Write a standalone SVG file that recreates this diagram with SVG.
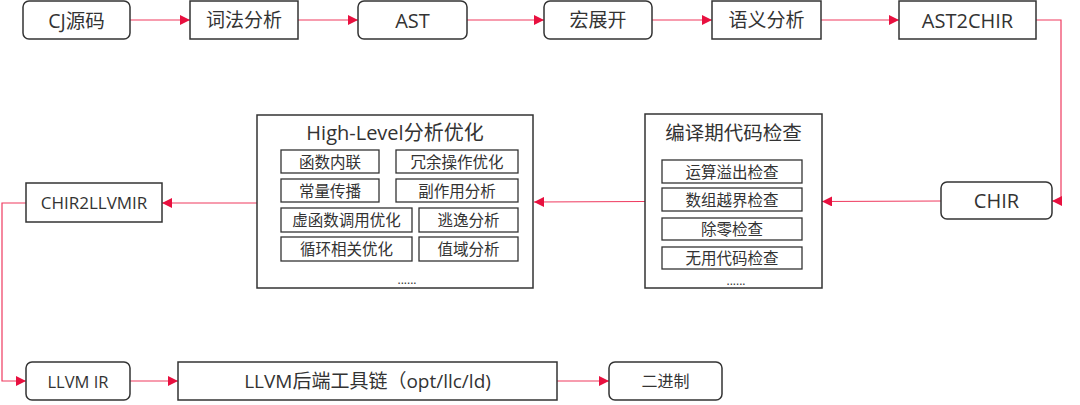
<svg xmlns="http://www.w3.org/2000/svg" width="1080" height="405" viewBox="0 0 1080 405">
<defs>
<marker id="ah" viewBox="0 0 10 10" refX="10" refY="5" markerWidth="10" markerHeight="10" markerUnits="userSpaceOnUse" orient="auto">
<path d="M0,0 L10,5 L0,10 z" fill="#e8103f"/>
</marker>
</defs>
<style>
.n{fill:#fff;stroke:#333;stroke-width:1.5}
.s{fill:#fff;stroke:#333;stroke-width:1.3}
.t{font-family:"Open Sans","Noto Sans CJK SC",sans-serif;fill:#333;text-anchor:middle;dominant-baseline:central}
.c{fill:none;stroke:#ef3a5f;stroke-width:1.2}
</style>
<rect width="1080" height="405" fill="#fff"/>
<g id="connectors">
<path class="c" d="M130,20 L190,20" marker-end="url(#ah)"/>
<path class="c" d="M298,20 L358,20" marker-end="url(#ah)"/>
<path class="c" d="M467,20 L544,20" marker-end="url(#ah)"/>
<path class="c" d="M652,20 L712,20" marker-end="url(#ah)"/>
<path class="c" d="M821,20 L899,20" marker-end="url(#ah)"/>
<path class="c" d="M1036,20 L1061,20 L1061,201 L1052,201" marker-end="url(#ah)"/>
<path class="c" d="M941,201 L822,201.5" marker-end="url(#ah)"/>
<path class="c" d="M645,201.5 L534,202" marker-end="url(#ah)"/>
<path class="c" d="M257,203 L162,203" marker-end="url(#ah)"/>
<path class="c" d="M26,203 L2,203 L2,381 L26,381" marker-end="url(#ah)"/>
<path class="c" d="M130,381 L178,381" marker-end="url(#ah)"/>
<path class="c" d="M557,381 L609,381" marker-end="url(#ah)"/>
</g>
<g id="cj"><rect class="n" x="23" y="1" width="107" height="38" rx="6"/><text class="t" x="76.5" y="20" font-size="19.5">CJ源码</text></g>
<g id="lex"><rect class="n" x="190" y="1" width="108" height="38"/><text class="t" x="244" y="20" font-size="19">词法分析</text></g>
<g id="ast"><rect class="n" x="358" y="1" width="109" height="38" rx="6"/><text class="t" x="412.5" y="20" font-size="20">AST</text></g>
<g id="macro"><rect class="n" x="544" y="1" width="108" height="38" rx="6"/><text class="t" x="598" y="20" font-size="19">宏展开</text></g>
<g id="sema"><rect class="n" x="712" y="1" width="109" height="38"/><text class="t" x="766.5" y="20" font-size="19">语义分析</text></g>
<g id="ast2chir"><rect class="n" x="899" y="1" width="137" height="38"/><text class="t" x="967.5" y="20" font-size="20">AST2CHIR</text></g>
<g id="chir"><rect class="n" x="941" y="182" width="111" height="37" rx="6"/><text class="t" x="996.5" y="200.5" font-size="20">CHIR</text></g>
<g id="check">
<rect class="n" x="645" y="114" width="177" height="174"/>
<text class="t" x="733.5" y="132" font-size="19.5">编译期代码检查</text>
<rect class="s" x="662" y="160" width="140" height="23"/><text class="t" x="732" y="171.5" font-size="15.5">运算溢出检查</text>
<rect class="s" x="662" y="188" width="140" height="23"/><text class="t" x="732" y="199.5" font-size="15.5">数组越界检查</text>
<rect class="s" x="662" y="218" width="140" height="22"/><text class="t" x="732" y="229" font-size="15.5">除零检查</text>
<rect class="s" x="662" y="247" width="140" height="22"/><text class="t" x="732" y="258" font-size="15.5">无用代码检查</text>
<text class="t" x="736" y="280" font-size="12">......</text>
</g>
<g id="highlevel">
<rect class="n" x="257" y="115" width="276" height="173"/>
<text class="t" x="395" y="132" font-size="20">High-Level分析优化</text>
<rect class="s" x="281" y="150" width="98" height="23"/><text class="t" x="330" y="161.5" font-size="15.5">函数内联</text>
<rect class="s" x="396" y="150" width="122" height="23"/><text class="t" x="457" y="161.5" font-size="15.5">冗余操作优化</text>
<rect class="s" x="281" y="179" width="98" height="23"/><text class="t" x="330" y="190.5" font-size="15.5">常量传播</text>
<rect class="s" x="396" y="179" width="122" height="23"/><text class="t" x="457" y="190.5" font-size="15.5">副作用分析</text>
<rect class="s" x="281" y="208" width="131" height="24"/><text class="t" x="346.5" y="220" font-size="15.5">虚函数调用优化</text>
<rect class="s" x="419" y="208" width="99" height="24"/><text class="t" x="468.5" y="220" font-size="15.5">逃逸分析</text>
<rect class="s" x="281" y="237" width="131" height="24"/><text class="t" x="346.5" y="249" font-size="15.5">循环相关优化</text>
<rect class="s" x="419" y="237" width="99" height="24"/><text class="t" x="468.5" y="249" font-size="15.5">值域分析</text>
<text class="t" x="407" y="279" font-size="12">......</text>
</g>
<g id="chir2llvmir"><rect class="n" x="26" y="183" width="136" height="39"/><text class="t" x="94" y="202.5" font-size="17">CHIR2LLVMIR</text></g>
<g id="llvmir"><rect class="n" x="26" y="362" width="104" height="38" rx="6"/><text class="t" x="78" y="381" font-size="16.5">LLVM IR</text></g>
<g id="backend"><rect class="n" x="178" y="362" width="379" height="38"/><text class="t" x="367.5" y="381" font-size="19">LLVM后端工具链（opt/llc/ld)</text></g>
<g id="binary"><rect class="n" x="609" y="362" width="113" height="38" rx="6"/><text class="t" x="665.5" y="381" font-size="16">二进制</text></g>
</svg>
